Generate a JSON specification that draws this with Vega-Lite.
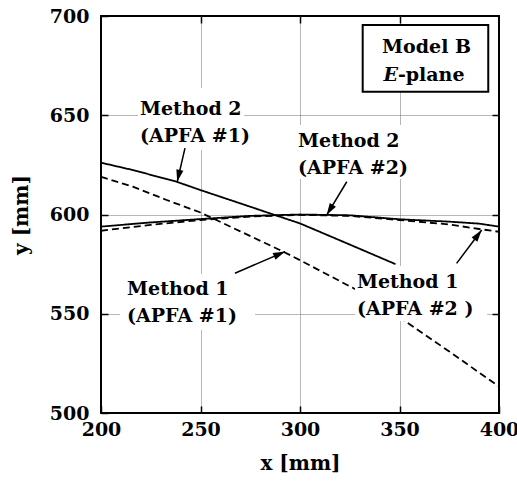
{
  "$schema": "https://vega.github.io/schema/vega-lite/v6.json",
  "autosize": {"type": "none"},
  "padding": {"left": 101, "top": 16, "right": 18, "bottom": 69},
  "width": 398,
  "height": 397,
  "background": "white",
  "config": {
    "view": {"stroke": "black", "strokeWidth": 2}
  },
  "datasets": {
    "curves": [
      {"series": "M2A1", "method": "Method 2", "x": 200, "y": 626.1},
      {"series": "M2A1", "method": "Method 2", "x": 216, "y": 622.4},
      {"series": "M2A1", "method": "Method 2", "x": 238, "y": 616.5},
      {"series": "M2A1", "method": "Method 2", "x": 250, "y": 612.3},
      {"series": "M2A1", "method": "Method 2", "x": 270, "y": 605.6},
      {"series": "M2A1", "method": "Method 2", "x": 286.6, "y": 600},
      {"series": "M2A1", "method": "Method 2", "x": 300, "y": 595.5},
      {"series": "M2A1", "method": "Method 2", "x": 320, "y": 587},
      {"series": "M2A1", "method": "Method 2", "x": 348, "y": 575},
      {"series": "M1A1", "method": "Method 1", "x": 200, "y": 619},
      {"series": "M1A1", "method": "Method 1", "x": 216, "y": 614},
      {"series": "M1A1", "method": "Method 1", "x": 233, "y": 607.3},
      {"series": "M1A1", "method": "Method 1", "x": 250, "y": 601},
      {"series": "M1A1", "method": "Method 1", "x": 270, "y": 591.5},
      {"series": "M1A1", "method": "Method 1", "x": 291.6, "y": 581.3},
      {"series": "M1A1", "method": "Method 1", "x": 300, "y": 577},
      {"series": "M1A1", "method": "Method 1", "x": 328.5, "y": 562},
      {"series": "M1A1", "method": "Method 1", "x": 351.8, "y": 547},
      {"series": "M1A1", "method": "Method 1", "x": 375, "y": 531},
      {"series": "M1A1", "method": "Method 1", "x": 400, "y": 513.3},
      {"series": "M2A2", "method": "Method 2", "x": 200, "y": 593.9},
      {"series": "M2A2", "method": "Method 2", "x": 225, "y": 596},
      {"series": "M2A2", "method": "Method 2", "x": 250, "y": 597.7},
      {"series": "M2A2", "method": "Method 2", "x": 275, "y": 599.3},
      {"series": "M2A2", "method": "Method 2", "x": 300, "y": 600},
      {"series": "M2A2", "method": "Method 2", "x": 325, "y": 599.6},
      {"series": "M2A2", "method": "Method 2", "x": 350, "y": 597.6},
      {"series": "M2A2", "method": "Method 2", "x": 375, "y": 596.4},
      {"series": "M2A2", "method": "Method 2", "x": 390, "y": 595.4},
      {"series": "M2A2", "method": "Method 2", "x": 400, "y": 593.9},
      {"series": "M1A2", "method": "Method 1", "x": 200, "y": 591.8},
      {"series": "M1A2", "method": "Method 1", "x": 225, "y": 594.8},
      {"series": "M1A2", "method": "Method 1", "x": 250, "y": 597.2},
      {"series": "M1A2", "method": "Method 1", "x": 275, "y": 599},
      {"series": "M1A2", "method": "Method 1", "x": 300, "y": 599.8},
      {"series": "M1A2", "method": "Method 1", "x": 325, "y": 599.3},
      {"series": "M1A2", "method": "Method 1", "x": 350, "y": 597.2},
      {"series": "M1A2", "method": "Method 1", "x": 375, "y": 595},
      {"series": "M1A2", "method": "Method 1", "x": 390, "y": 592.7},
      {"series": "M1A2", "method": "Method 1", "x": 400, "y": 591.3}
    ],
    "backs": [
      {"x": 218.6, "x2": 271.9, "y": 632.5, "y2": 663.7},
      {"x": 298, "x2": 357.8, "y": 617.9, "y2": 645.1},
      {"x": 209.5, "x2": 277.4, "y": 541.8, "y2": 570},
      {"x": 327.6, "x2": 394, "y": 546.3, "y2": 574.1}
    ],
    "notes": [
      {"text": "Method 2|(APFA #1)", "x": 219.6, "y": 650.1},
      {"text": "Method 2|(APFA #2)", "x": 299, "y": 634},
      {"text": "Method 1|(APFA #1)", "x": 213.1, "y": 559.4},
      {"text": "Method 1|(APFA #2 )", "x": 328.6, "y": 563}
    ],
    "arrows": [
      {"x": 242.2, "y": 633.4, "x2": 238.3, "y2": 616.5},
      {"x": 323.5, "y": 616.5, "x2": 313.4, "y2": 599.7},
      {"x": 267.3, "y": 570.4, "x2": 292.5, "y2": 581.3},
      {"x": 378.7, "y": 575.4, "x2": 391.3, "y2": 592.2}
    ],
    "box": [
      {"x": 331.5, "x2": 394.6, "y": 661.9, "y2": 695.5}
    ],
    "boxText": [
      {"text": "Model B", "x": 363.6, "y": 681.2},
      {"text": "E", "x": 349.2, "y": 667.4},
      {"text": "-plane", "x": 349.2, "y": 667.4}
    ]
  },
  "encoding": {
    "x": {"field": "x", "type": "quantitative", "scale": {"domain": [200, 400], "nice": false, "zero": false}, "axis": null},
    "y": {"field": "y", "type": "quantitative", "scale": {"domain": [500, 700], "nice": false, "zero": false}, "axis": null}
  },
  "layer": [
    {
      "data": {"name": "curves"},
      "mark": {"type": "line", "color": "black", "strokeWidth": 1.8, "clip": true},
      "encoding": {
        "x": {"field": "x", "type": "quantitative", "scale": {"domain": [200, 400], "nice": false, "zero": false},
          "axis": {"orient": "bottom", "values": [200, 250, 300, 350, 400], "grid": false, "domain": false,
            "tickSize": -7, "tickColor": "black", "tickWidth": 1.5,
            "labelFont": "DejaVu Serif",
            "labelFontSize": 19, "labelFontWeight": "bold", "labelColor": "black", "labelPadding": 14,
            "labelFlush": false, "labelOverlap": false,
            "title": "x [mm]", "titleFont": "DejaVu Serif", "titleFontSize": 20, "titleFontWeight": "bold", "titleColor": "black", "titlePadding": 14}},
        "y": {"field": "y", "type": "quantitative", "scale": {"domain": [500, 700], "nice": false, "zero": false},
          "axis": {"orient": "left", "values": [500, 550, 600, 650, 700], "grid": false, "domain": false,
            "tickSize": -7, "tickColor": "black", "tickWidth": 1.5,
            "labelFont": "DejaVu Serif",
            "labelFontSize": 19, "labelFontWeight": "bold", "labelColor": "black", "labelPadding": 19,
            "labelFlush": false, "labelOverlap": false,
            "title": "y [mm]", "titleFont": "DejaVu Serif", "titleFontSize": 20, "titleFontWeight": "bold", "titleColor": "black", "titlePadding": 18}},
        "detail": {"field": "series", "type": "nominal"},
        "strokeDash": {"field": "method", "type": "nominal", "scale": {"domain": ["Method 2", "Method 1"], "range": [[1, 0], [7, 4]]}, "legend": null}
      }
    },
    {
      "data": {"name": "backs"},
      "mark": {"type": "rect", "fill": "white", "stroke": null},
      "encoding": {
        "x": {"field": "x", "type": "quantitative", "scale": {"domain": [200, 400], "nice": false, "zero": false},
          "axis": {"orient": "top", "values": [250, 300, 350], "grid": true, "gridColor": "#6e6e6e", "gridDash": [1, 1], "gridWidth": 1,
            "domain": false, "labels": false, "tickSize": -7, "tickColor": "black", "tickWidth": 1.5, "title": null}},
        "y": {"field": "y", "type": "quantitative", "scale": {"domain": [500, 700], "nice": false, "zero": false},
          "axis": {"orient": "right", "values": [550, 600, 650], "grid": true, "gridColor": "#6e6e6e", "gridDash": [1, 1], "gridWidth": 1,
            "domain": false, "labels": false, "tickSize": -7, "tickColor": "black", "tickWidth": 1.5, "title": null}},
        "x2": {"field": "x2"},
        "y2": {"field": "y2"}
      }
    },
    {
      "data": {"name": "notes"},
      "mark": {"type": "text", "font": "DejaVu Serif", "fontWeight": "bold", "fontSize": 19, "align": "left", "baseline": "alphabetic", "lineBreak": "|", "lineHeight": 27, "color": "black"},
      "encoding": {"text": {"field": "text"}}
    },
    {
      "data": {"name": "arrows"},
      "mark": {"type": "rule", "color": "black", "strokeWidth": 1.5},
      "encoding": {"x2": {"field": "x2"}, "y2": {"field": "y2"}}
    },
    {
      "data": {"name": "arrows"},
      "transform": [{"calculate": "atan2(datum.x2 - datum.x, datum.y2 - datum.y) * 180 / PI", "as": "angle"}],
      "mark": {"type": "point", "shape": "M0,0L0.6,2L-0.6,2Z", "size": 144, "filled": true, "color": "black", "opacity": 1, "strokeWidth": 0},
      "encoding": {
        "x": {"field": "x2", "type": "quantitative", "scale": {"domain": [200, 400], "nice": false, "zero": false}, "axis": null},
        "y": {"field": "y2", "type": "quantitative", "scale": {"domain": [500, 700], "nice": false, "zero": false}, "axis": null},
        "angle": {"field": "angle", "type": "quantitative", "scale": null}
      }
    },
    {
      "data": {"name": "box"},
      "mark": {"type": "rect", "fill": "white", "stroke": "black", "strokeWidth": 2},
      "encoding": {"x2": {"field": "x2"}, "y2": {"field": "y2"}}
    },
    {
      "data": {"name": "boxText"},
      "transform": [{"filter": "datum.text === 'Model B'"}],
      "mark": {"type": "text", "font": "DejaVu Serif", "fontWeight": "bold", "fontSize": 19, "align": "center", "baseline": "alphabetic", "color": "black"},
      "encoding": {"text": {"field": "text"}}
    },
    {
      "data": {"name": "boxText"},
      "transform": [{"filter": "datum.text === 'E'"}],
      "mark": {"type": "text", "font": "DejaVu Serif", "fontWeight": "bold", "fontStyle": "italic", "fontSize": 19, "align": "right", "baseline": "alphabetic", "color": "black"},
      "encoding": {"text": {"field": "text"}}
    },
    {
      "data": {"name": "boxText"},
      "transform": [{"filter": "datum.text === '-plane'"}],
      "mark": {"type": "text", "font": "DejaVu Serif", "fontWeight": "bold", "fontSize": 19, "align": "left", "baseline": "alphabetic", "color": "black"},
      "encoding": {"text": {"field": "text"}}
    }
  ],
  "resolve": {"axis": {"x": "independent", "y": "independent"}}
}
